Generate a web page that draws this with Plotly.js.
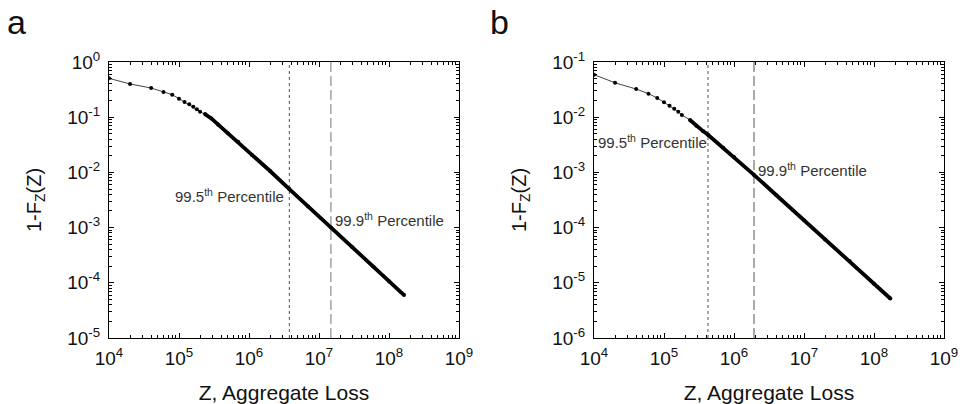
<!DOCTYPE html>
<html><head><meta charset="utf-8">
<script src="https://cdn.plot.ly/plotly-3.0.1.min.js"></script>
<style>html,body{margin:0;padding:0;background:#fff}</style>
</head><body><div id="chart" style="width:962px;height:404px"></div>
<script>
// Panel a: aggregate loss Z vs exceedance probability 1-F_Z(Z)
const zA = [1e4, 2e4, 4e4, 6e4, 8e4, 1e5, 1.2e5, 1.4e5, 1.6e5, 1.8e5, 2e5, 2.35e5, 2.9e5, 3.6e5, 5e5, 7e5, 1.1e6, 2e6, 3.77e6, 7e6, 1.48e7, 3e7, 6e7, 1e8, 1.64e8];
const pA = [0.506, 0.40, 0.338, 0.286, 0.256, 0.217, 0.188, 0.171, 0.155, 0.139, 0.126, 0.114, 0.095, 0.074, 0.051, 0.036, 0.0207, 0.0106, 0.005, 0.0024, 0.001, 4.4e-4, 1.95e-4, 1.07e-4, 6.0e-5];
// Panel b
const zB = [1e4, 2e4, 4e4, 6e4, 8e4, 1e5, 1.2e5, 1.4e5, 1.6e5, 1.8e5, 2.35e5, 2.9e5, 3.6e5, 4.25e5, 7e5, 1e6, 1.93e6, 4e6, 1e7, 2e7, 4.5e7, 1e8, 1.71e8];
const pB = [0.059, 0.042, 0.0324, 0.0267, 0.0223, 0.0186, 0.0162, 0.0143, 0.0126, 0.011, 0.0089, 0.007, 0.0056, 0.0048, 0.0028, 0.0019, 9e-4, 3.9e-4, 1.36e-4, 6.1e-5, 2.45e-5, 9.6e-6, 5.2e-6];
// Percentile markers [panel a, panel b]
const pct995 = [3.77e6, 4.25e5];
const pct999 = [1.48e7, 1.93e6];
const pct995Label = '99.5<sup>th</sup> Percentile';
const pct999Label = '99.9<sup>th</sup> Percentile';
// Tick labels
const xTickVals = [1e4, 1e5, 1e6, 1e7, 1e8, 1e9];
const xTickText = ['10<sup>4</sup>', '10<sup>5</sup>', '10<sup>6</sup>', '10<sup>7</sup>', '10<sup>8</sup>', '10<sup>9</sup>'];
const yTickValsA = [1e-5, 1e-4, 1e-3, 1e-2, 1e-1, 1];
const yTickTextA = ['10<sup>-5</sup>', '10<sup>-4</sup>', '10<sup>-3</sup>', '10<sup>-2</sup>', '10<sup>-1</sup>', '10<sup>0</sup>'];
const yTickValsB = [1e-6, 1e-5, 1e-4, 1e-3, 1e-2, 1e-1];
const yTickTextB = ['10<sup>-6</sup>', '10<sup>-5</sup>', '10<sup>-4</sup>', '10<sup>-3</sup>', '10<sup>-2</sup>', '10<sup>-1</sup>'];
const panelLabels = ['a', 'b'];
const xTitle = 'Z, Aggregate Loss';
const yTitle = '1-F<sub>Z</sub>(Z)';

const FONT = 'Liberation Sans, Arial, sans-serif';
const TICKSIZE = 19;

function minorVals(lo, hi) {
  const v = [];
  for (let e = lo; e < hi; e++) for (let k = 2; k <= 9; k++) v.push(k * Math.pow(10, e));
  return v;
}

function tailOf(xs, ys, cut) {
  const tx = [], ty = [];
  xs.forEach((x, i) => { if (x >= cut) { tx.push(x); ty.push(ys[i]); } });
  return [tx, ty];
}

const [tAx, tAy] = tailOf(zA, pA, 2.3e5);
const [tBx, tBy] = tailOf(zB, pB, 2.3e5);

const headStyle = {mode: 'lines+markers', line: {color: '#444', width: 1}, marker: {color: '#000', size: 4}, showlegend: false, hoverinfo: 'x+y'};
const tailStyle = {mode: 'lines', line: {color: '#000', width: 3.8}, showlegend: false, hoverinfo: 'skip'};

const data = [
  Object.assign({x: zA, y: pA, xaxis: 'x', yaxis: 'y'}, headStyle),
  Object.assign({x: tAx, y: tAy, xaxis: 'x', yaxis: 'y'}, tailStyle),
  Object.assign({x: zB, y: pB, xaxis: 'x2', yaxis: 'y2'}, headStyle),
  Object.assign({x: tBx, y: tBy, xaxis: 'x2', yaxis: 'y2'}, tailStyle)
];

function xAxis(domain, anchor) {
  return {
    type: 'log', range: [4, 9], domain: domain, anchor: anchor,
    tickmode: 'array', tickvals: xTickVals, ticktext: xTickText,
    ticks: 'inside', ticklen: 5, tickwidth: 1, tickcolor: '#000',
    minor: {tickmode: 'array', tickvals: minorVals(4, 9), ticks: 'inside', ticklen: 3, tickcolor: '#000', showgrid: false},
    showline: true, linecolor: '#000', linewidth: 1, mirror: 'allticks',
    showgrid: false, zeroline: false,
    tickfont: {family: FONT, size: TICKSIZE, color: '#111'},
    ticklabelstandoff: 3,
    title: {text: xTitle, font: {family: FONT, size: 21, color: '#111'}, standoff: 22},
    automargin: false
  };
}
function yAxis(domain, anchor, range, vals, text) {
  return {
    type: 'log', range: range, domain: domain, anchor: anchor,
    tickmode: 'array', tickvals: vals, ticktext: text,
    ticks: 'inside', ticklen: 5, tickwidth: 1, tickcolor: '#000',
    minor: {tickmode: 'array', tickvals: minorVals(range[0], range[1]), ticks: 'inside', ticklen: 3, tickcolor: '#000', showgrid: false},
    showline: true, linecolor: '#000', linewidth: 1, mirror: 'allticks',
    showgrid: false, zeroline: false,
    tickfont: {family: FONT, size: TICKSIZE, color: '#111'},
    ticklabelstandoff: 4,
    title: {text: yTitle, font: {family: FONT, size: 20, color: '#111'}, standoff: 20},
    automargin: false
  };
}

const W = 962, H = 404;
const domX1 = [109 / W, 459 / W];
const domX2 = [594 / W, 944 / W];
const domY = [(H - 338) / H, (H - 62) / H];

const annFont = {family: FONT, size: 15, color: '#333'};
const annotations = [
  {xref: 'x', yref: 'y', x: Math.log10(pct995[0]), y: -2.41, text: pct995Label, showarrow: false, xanchor: 'right', yanchor: 'middle', xshift: -3, font: annFont},
  {xref: 'x', yref: 'y', x: Math.log10(pct999[0]), y: -2.86, text: pct999Label, showarrow: false, xanchor: 'left', yanchor: 'middle', xshift: 2, font: annFont},
  {xref: 'x2', yref: 'y2', x: 4, y: -2.44, text: pct995Label, showarrow: false, xanchor: 'left', yanchor: 'middle', xshift: 2, font: annFont},
  {xref: 'x2', yref: 'y2', x: Math.log10(pct999[1]), y: -2.94, text: pct999Label, showarrow: false, xanchor: 'left', yanchor: 'middle', xshift: 2, font: annFont},
  {xref: 'paper', yref: 'paper', x: 5 / W, y: 1 - 22 / H, text: panelLabels[0], showarrow: false, xanchor: 'left', yanchor: 'middle', font: {family: FONT, size: 34, color: '#111'}},
  {xref: 'paper', yref: 'paper', x: 488 / W, y: 1 - 22 / H, text: panelLabels[1], showarrow: false, xanchor: 'left', yanchor: 'middle', font: {family: FONT, size: 34, color: '#111'}}
];

function vline(xref, yref, xv, dash, color) {
  return {type: 'line', xref: xref, yref: yref + ' domain', x0: xv, x1: xv, y0: 0, y1: 1, line: {color: color, width: 1, dash: dash}, layer: 'below'};
}
const shapes = [
  vline('x', 'y', pct995[0], 'dot', '#555'),
  vline('x', 'y', pct999[0], '10px,4px', '#777'),
  vline('x2', 'y2', pct995[1], 'dot', '#555'),
  vline('x2', 'y2', pct999[1], '10px,4px', '#555')
];

const layout = {
  width: W, height: H,
  margin: {l: 0, r: 0, t: 0, b: 0},
  font: {family: FONT, size: TICKSIZE, color: '#111'},
  paper_bgcolor: '#fff', plot_bgcolor: '#fff',
  xaxis: xAxis(domX1, 'y'),
  yaxis: yAxis(domY, 'x', [-5, 0], yTickValsA, yTickTextA),
  xaxis2: xAxis(domX2, 'y2'),
  yaxis2: yAxis(domY, 'x2', [-6, -1], yTickValsB, yTickTextB),
  annotations: annotations,
  shapes: shapes,
  showlegend: false
};

Plotly.newPlot('chart', data, layout, {displayModeBar: false, staticPlot: true});
</script></body></html>
